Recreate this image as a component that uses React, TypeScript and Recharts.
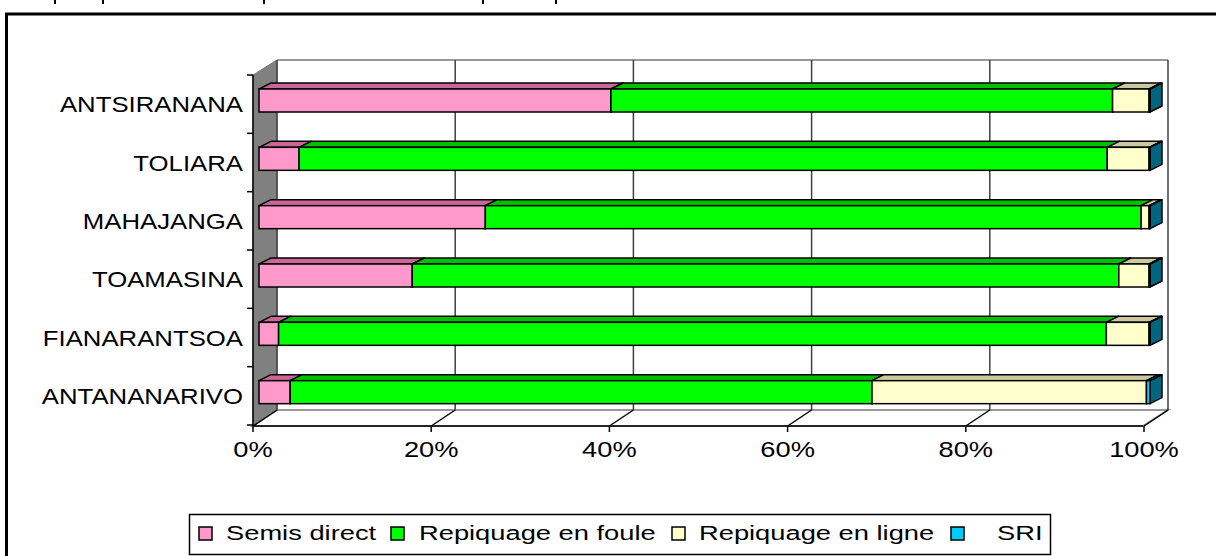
import React from 'react';
import { BarChart, Bar, XAxis, YAxis, CartesianGrid } from 'recharts';

// values, in % of each province
const categories = ['ANTSIRANANA', 'TOLIARA', 'MAHAJANGA', 'TOAMASINA', 'FIANARANTSOA', 'ANTANANARIVO'];
const semisDirect = [39.5, 4.5, 25.4, 17.2, 2.2, 3.5];
const repiquageFoule = [56.3, 90.7, 73.6, 79.3, 92.9, 65.3];
const repiquageLigne = [4.1, 4.7, 0.9, 3.4, 4.8, 30.8];
const sri = [0.1, 0.1, 0.1, 0.1, 0.1, 0.4];
const xTicks = [0, 0.2, 0.4, 0.6, 0.8, 1];

const seriesNames = ['Semis direct', 'Repiquage en foule', 'Repiquage en ligne', 'SRI'];
const seriesKeys = ['semis', 'foule', 'ligne', 'sri'];
const frontColors = ['#FF99CC', '#00FF00', '#FFFFCC', '#00CCFF'];
const topColors = ['#CC6699', '#00C000', '#CCC8A0', '#0099CC'];
const sideColors = ['#993366', '#009000', '#999966', '#006680'];

const data = categories.map((name, i) => ({
  name,
  semis: semisDirect[i],
  foule: repiquageFoule[i],
  ligne: repiquageLigne[i],
  sri: sri[i],
}));

// layout of the fake 3D box (back wall = recharts plot area)
const W = 1216;
const H = 556;
const PLOT = { left: 277, top: 60, right: 1168, bottom: 410 };
const DEPTH_X = 24; // front axis is 24px left of the back wall
const DEPTH_Y = 16; // ... and 16px lower
const BAR_SHIFT_X = 18;
const BAR_SHIFT_Y = 11;
const BAR_DX = 12;
const BAR_DY = 6;
const FONT = '"Liberation Sans", Arial, sans-serif';

const makeBarShape = (top: string, side: string) => (props: any) => {
  const { x, y, width, height, fill } = props;
  if (x == null || width == null) return <g />;
  const fx = x - BAR_SHIFT_X;
  const fy = y + BAR_SHIFT_Y;
  return (
    <g>
      <polygon
        points={`${fx + width},${fy} ${fx + width + BAR_DX},${fy - BAR_DY} ${fx + width + BAR_DX},${fy + height - BAR_DY} ${fx + width},${fy + height}`}
        fill={side}
        stroke="#000"
        strokeWidth={1.5}
        strokeLinejoin="round"
      />
      <polygon
        points={`${fx},${fy} ${fx + BAR_DX},${fy - BAR_DY} ${fx + width + BAR_DX},${fy - BAR_DY} ${fx + width},${fy}`}
        fill={top}
        stroke="#000"
        strokeWidth={1.5}
        strokeLinejoin="round"
      />
      <rect x={fx} y={fy} width={width} height={height} fill={fill} stroke="#000" strokeWidth={1.5} />
    </g>
  );
};

const XTick = (props: any) => {
  const { x, y, payload } = props;
  const fx = x - DEPTH_X;
  const fy = y + DEPTH_Y;
  return (
    <g>
      <line x1={x} y1={y} x2={fx} y2={fy} stroke="#000" strokeWidth={1.5} />
      <line x1={fx} y1={fy} x2={fx} y2={fy + 6} stroke="#000" strokeWidth={1.5} />
      <text
        transform={`translate(${fx},${fy + 31}) scale(1.24,1)`}
        textAnchor="middle"
        fontFamily={FONT}
        fontSize={22}
        fill="#000"
      >
        {`${Math.round(payload.value * 100)}%`}
      </text>
    </g>
  );
};

const YTick = (props: any) => {
  const { x, y, payload, index } = props;
  const band = (PLOT.bottom - PLOT.top) / categories.length;
  const ax = x - DEPTH_X;
  const cy = y + DEPTH_Y - 1;
  return (
    <g>
      <line x1={ax - 6} y1={cy - band / 2} x2={ax} y2={cy - band / 2} stroke="#000" strokeWidth={1.5} />
      {index === categories.length - 1 && (
        <line x1={ax - 6} y1={cy + band / 2} x2={ax} y2={cy + band / 2} stroke="#000" strokeWidth={1.5} />
      )}
      <text
        transform={`translate(${ax - 10},${cy + 8}) scale(1.17,1)`}
        textAnchor="end"
        fontFamily={FONT}
        fontSize={22}
        fill="#000"
      >
        {payload.value}
      </text>
    </g>
  );
};

const legendX = [199, 391, 672, 951];
const legendTextGap = [27, 28, 27, 46];

export default function App() {
  const fl = PLOT.left - DEPTH_X;
  const fr = PLOT.right - DEPTH_X - 1;
  const fb = PLOT.bottom + DEPTH_Y;
  return (
    <div style={{ position: 'absolute', left: 0, top: 0, width: W, height: H, overflow: 'hidden', background: '#fff' }}>
      <svg width={W} height={H} style={{ position: 'absolute', left: 0, top: 0 }}>
        {/* frame and cut-off marks at the top */}
        {[54, 102, 263, 482, 555].map((mx) => (
          <rect key={mx} x={mx} y={0} width={2} height={4} fill="#000" />
        ))}
        <rect x={6.5} y={14} width={1230} height={570} fill="none" stroke="#000" strokeWidth={3} />
        {/* left wall */}
        <polygon
          points={`${fl},${PLOT.top + DEPTH_Y - 1} ${PLOT.left},${PLOT.top} ${PLOT.left},${PLOT.bottom} ${fl},${fb}`}
          fill="#808080"
          stroke="#707070"
          strokeWidth={1}
        />
        {/* floor */}
        <polygon
          points={`${fl},${fb} ${PLOT.left},${PLOT.bottom} ${PLOT.right},${PLOT.bottom} ${fr},${fb}`}
          fill="#fff"
          stroke="#999"
          strokeWidth={2}
        />
        <line x1={PLOT.left} y1={PLOT.top} x2={PLOT.right} y2={PLOT.top} stroke="#999" strokeWidth={2} />
        <line x1={fl} y1={PLOT.top + DEPTH_Y - 1} x2={fl} y2={fb} stroke="#000" strokeWidth={1.5} />
        <line x1={fl} y1={fb} x2={fr} y2={fb} stroke="#000" strokeWidth={1.5} />
        {/* legend */}
        <rect x={189.5} y={514.5} width={861} height={40} fill="#fff" stroke="#000" strokeWidth={1.5} />
        {seriesNames.map((n, i) => (
          <g key={n}>
            <rect x={legendX[i]} y={527} width={13} height={13} fill={frontColors[i]} stroke="#000" strokeWidth={1.5} />
            <text
              transform={`translate(${legendX[i] + legendTextGap[i]},${540}) scale(1.3,1)`}
              fontFamily={FONT}
              fontSize={21}
              fill="#000"
            >
              {n}
            </text>
          </g>
        ))}
      </svg>
      <div style={{ position: 'absolute', left: 0, top: 0 }}>
        <BarChart
          width={W}
          height={H}
          data={data}
          layout="vertical"
          stackOffset="expand"
          margin={{ top: PLOT.top, right: W - PLOT.right, bottom: H - PLOT.bottom - 40, left: PLOT.left - 200 }}
        >
          <CartesianGrid horizontal={false} stroke="#404040" strokeWidth={1.5} />
          <XAxis
            type="number"
            domain={[0, 1]}
            ticks={xTicks}
            interval={0}
            height={40}
            axisLine={false}
            tickLine={false}
            tickSize={0}
            tickMargin={0}
            tick={<XTick />}
          />
          <YAxis
            type="category"
            dataKey="name"
            width={200}
            axisLine={false}
            tickLine={false}
            tickSize={0}
            tickMargin={0}
            interval={0}
            tick={<YTick />}
          />
          {seriesKeys.map((k, i) => (
            <Bar
              key={k}
              dataKey={k}
              name={seriesNames[i]}
              stackId="a"
              fill={frontColors[i]}
              barSize={23}
              isAnimationActive={false}
              shape={makeBarShape(topColors[i], sideColors[i])}
            />
          ))}
        </BarChart>
      </div>
    </div>
  );
}
